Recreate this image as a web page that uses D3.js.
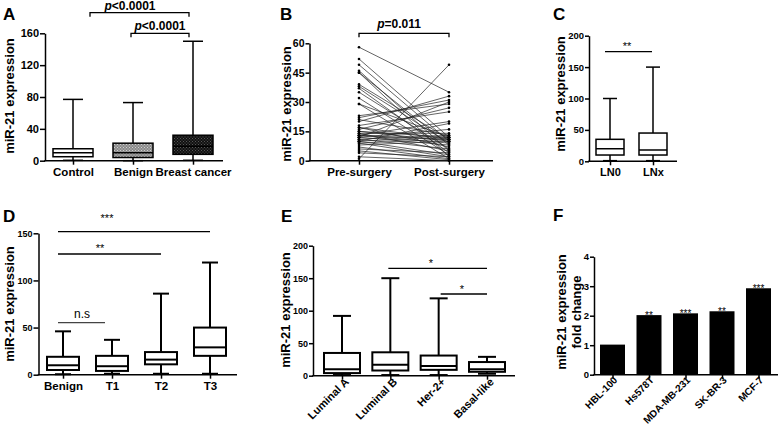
<!DOCTYPE html>
<html><head><meta charset="utf-8">
<script src="https://cdn.jsdelivr.net/npm/d3@7"></script>
<style>
html,body{margin:0;padding:0;background:#fff;}
svg{display:block;font-family:"Liberation Sans",Arial,sans-serif;}
</style></head>
<body><svg id="c" width="778" height="433"></svg>
<script>
// ---------- DATA ----------
// Panel A
const catsA = ["Control", "Benign", "Breast cancer"];
const minA = [0.5, 0, 0.5];
const q1A = [5, 4, 8];
const medA = [10, 10, 18];
const q3A = [15, 22, 32];
const maxA = [77, 73, 150];
const ticksA = [0, 40, 80, 120, 160];
// Panel B (paired values)
const catsB = ["Pre-surgery", "Post-surgery"];
const preB = [58, 52, 49, 46, 45, 45, 39, 38, 37, 35, 32, 29, 29, 23, 22, 21, 20, 18, 17, 17, 16, 15, 15, 14, 14, 13, 13, 13, 12, 12, 12, 11, 11, 10, 10, 10, 9, 9, 8, 7, 6, 5, 4, 2, 1];
const postB = [35, 12, 10, 5, 8, 2, 11, 9, 4, 6, 3, 12, 1, 29, 31, 13, 33, 25, 11, 7, 27, 12, 10, 14, 5, 20, 11, 9, 30, 16, 8, 13, 6, 12, 19, 3, 11, 2, 10, 1, 4, 0.5, 2, 0, 49];
const ticksB = [0, 15, 30, 45, 60];
// Panel C
const catsC = ["LN0", "LNx"];
const minC = [1, 1];
const q1C = [10, 10];
const medC = [20, 18];
const q3C = [35, 45];
const maxC = [100, 150];
const ticksC = [0, 50, 100, 150, 200];
// Panel D
const catsD = ["Benign", "T1", "T2", "T3"];
const minD = [0.5, 1, 1, 1];
const q1D = [5, 4, 11, 20];
const medD = [10, 9, 16, 29];
const q3D = [19, 20, 24, 50];
const maxD = [46, 37, 86, 119];
const ticksD = [0, 50, 100, 150];
// Panel E
const catsE = ["Luminal A", "Luminal B", "Her-2+", "Basal-like"];
const minE = [1, 1, 1, 3];
const q1E = [4, 8, 9, 6];
const medE = [10, 17, 15, 10];
const q3E = [35, 36, 31, 21];
const maxE = [92, 150, 119, 29];
const ticksE = [0, 50, 100, 150, 200];
// Panel F
const catsF = ["HBL-100", "Hs578T", "MDA-MB-231", "SK-BR-3", "MCF-7"];
const valsF = [1.02, 2.02, 2.08, 2.15, 2.93];
const starsF = ["", "**", "***", "**", "***"];
const ticksF = [0, 1, 2, 3, 4];

// ---------- DRAW ----------
const svg = d3.select("#c");
const defs = svg.append("defs");
function dotPattern(id, bg, dot) {
  const p = defs.append("pattern").attr("id", id).attr("patternUnits", "userSpaceOnUse")
    .attr("width", 3).attr("height", 3);
  p.append("rect").attr("width", 3).attr("height", 3).attr("fill", bg);
  p.append("rect").attr("x", 0).attr("y", 0).attr("width", 1).attr("height", 1).attr("fill", dot);
  p.append("rect").attr("x", 1.5).attr("y", 1.5).attr("width", 1).attr("height", 1).attr("fill", dot);
}
dotPattern("patGray", "#8a8a8a", "#d0d0d0");
dotPattern("patDark", "#111", "#555");

function frame(o) {
  const g = svg.append("g");
  const y = d3.scaleLinear().domain(o.yDomain).range(o.yRange);
  const x = d3.scalePoint().domain(o.cats).range(o.xRange);
  // y axis
  const ya = g.append("g").attr("transform", `translate(${o.ax0},0)`)
    .call(d3.axisLeft(y).tickValues(o.yTicks).tickFormat(d3.format("d"))
      .tickSize(o.tickLen || 5).tickSizeOuter(0).tickPadding(1));
  ya.select(".domain").attr("stroke", "#000").attr("stroke-width", 1.5);
  ya.selectAll(".tick line").attr("stroke", "#000").attr("stroke-width", 1.5);
  ya.selectAll(".tick text").attr("fill", "#000").style("font-size", o.tickFs + "px").style("font-weight", "bold");
  // x axis
  g.append("line").attr("x1", o.ax0 - 0.75).attr("x2", o.ax1).attr("y1", y(0)).attr("y2", y(0))
    .attr("stroke", "#000").attr("stroke-width", 1.5);
  const xa = g.append("g").attr("transform", `translate(0,${y(0)})`)
    .call(d3.axisBottom(x).tickSize(4).tickSizeOuter(0).tickPadding(3));
  xa.select(".domain").remove();
  xa.selectAll(".tick line").attr("stroke", "#000").attr("stroke-width", 1.5);
  xa.selectAll(".tick text").attr("fill", "#000").style("font-size", o.catFs + "px").style("font-weight", "bold");
  if (o.rotate) {
    xa.selectAll(".tick text").attr("text-anchor", "end").attr("dy", null).attr("y", 0)
      .attr("transform", `translate(${o.rotDx},${o.rotDy}) rotate(-45)`);
  }
  // y title
  o.title.forEach((t, i) => {
    g.append("text").attr("transform", `translate(${o.titleX + i * o.titleGap},${o.titleY}) rotate(-90)`)
      .attr("text-anchor", "middle").attr("dy", "0.35em")
      .style("font-size", "13px").style("font-weight", "bold").text(t);
  });
  // panel letter
  g.append("text").attr("x", o.lx).attr("y", o.ly).style("font-size", "17px").style("font-weight", "bold").text(o.letter);
  return { g, x, y };
}

function boxes(P, cats, mn, q1, md, q3, mx, w, fills, sw) {
  cats.forEach((c, i) => {
    const cx = P.x(c);
    const gg = P.g.append("g").attr("stroke", "#000").attr("stroke-width", sw).attr("fill", "none");
    gg.append("line").attr("x1", cx).attr("x2", cx).attr("y1", P.y(mx[i])).attr("y2", P.y(mn[i]));
    gg.append("line").attr("x1", cx - w / 4).attr("x2", cx + w / 4).attr("y1", P.y(mx[i])).attr("y2", P.y(mx[i]));
    gg.append("line").attr("x1", cx - w / 4).attr("x2", cx + w / 4).attr("y1", P.y(mn[i])).attr("y2", P.y(mn[i]));
    gg.append("rect").attr("x", cx - w / 2).attr("width", w).attr("y", P.y(q3[i]))
      .attr("height", P.y(q1[i]) - P.y(q3[i])).attr("fill", fills ? fills[i] : "#fff");
    gg.append("line").attr("x1", cx - w / 2).attr("x2", cx + w / 2).attr("y1", P.y(md[i])).attr("y2", P.y(md[i]));
  });
}

function hline(g, x1, x2, y, drop, color) {
  const p = drop ? `M${x1},${y + drop}V${y}H${x2}V${y + drop}` : `M${x1},${y}H${x2}`;
  g.append("path").attr("d", p).attr("fill", "none").attr("stroke", color || "#000").attr("stroke-width", 1.3);
}
function label(g, x, y, t, fs, bold, italicP) {
  const tx = g.append("text").attr("x", x).attr("y", y).attr("text-anchor", "middle").attr("fill", "#000")
    .style("font-size", fs + "px").style("font-weight", bold ? "bold" : "normal");
  if (italicP) {
    tx.append("tspan").style("font-style", "italic").text(t[0]);
    tx.append("tspan").text(t.slice(1));
  } else tx.text(t);
}

// Panel A
const A = frame({ yDomain: [0, 160], yRange: [160.7, 33.3], yTicks: ticksA, cats: catsA, xRange: [73, 193],
  ax0: 45, ax1: 223, tickFs: 11, catFs: 11.5, title: ["miR-21 expression"], titleX: 9, titleY: 96, titleGap: 0,
  letter: "A", lx: 3, ly: 20 });
boxes(A, catsA, minA, q1A, medA, q3A, maxA, 40, ["#fff", "url(#patGray)", "url(#patDark)"], 1.5);
hline(A.g, A.x(catsA[0]) + 17, A.x(catsA[2]) - 4, 12.7, 4);
label(A.g, 130, 9.8, "p<0.0001", 12, true, true);
hline(A.g, A.x(catsA[1]) - 2, A.x(catsA[2]) - 4, 33.3, 4);
label(A.g, 160, 29.5, "p<0.0001", 12, true, true);

// Panel B
const B = frame({ yDomain: [0, 60], yRange: [160.7, 43.3], yTicks: ticksB, cats: catsB, xRange: [359, 449],
  ax0: 309.5, ax1: 493, tickFs: 10.5, tickLen: 4, catFs: 11.5, title: ["miR-21 expression"], titleX: 286, titleY: 104, titleGap: 0,
  letter: "B", lx: 280, ly: 20 });
preB.forEach((v, i) => {
  B.g.append("line").attr("x1", B.x(catsB[0])).attr("x2", B.x(catsB[1])).attr("y1", B.y(v)).attr("y2", B.y(postB[i]))
    .attr("stroke", "#222").attr("stroke-width", 0.7);
});
preB.forEach((v, i) => {
  B.g.append("circle").attr("cx", B.x(catsB[0])).attr("cy", B.y(v)).attr("r", 1.3).attr("fill", "#000");
  B.g.append("circle").attr("cx", B.x(catsB[1])).attr("cy", B.y(postB[i])).attr("r", 1.3).attr("fill", "#000");
});
hline(B.g, B.x(catsB[0]), B.x(catsB[1]), 33.3, 4);
label(B.g, 399, 28, "p=0.011", 12, true, true);

// Panel C
const C = frame({ yDomain: [0, 200], yRange: [161.3, 35.7], yTicks: ticksC, cats: catsC, xRange: [610, 653],
  ax0: 589, ax1: 677, tickFs: 9.5, tickLen: 4, catFs: 11, title: ["miR-21 expression"], titleX: 560, titleY: 94, titleGap: 0,
  letter: "C", lx: 553, ly: 20 });
boxes(C, catsC, minC, q1C, medC, q3C, maxC, 28, null, 1.5);
hline(C.g, C.x(catsC[0]) - 5, C.x(catsC[1]) - 1, 51.7, 0);
label(C.g, 627, 50, "**", 11, false);

// Panel D
const D = frame({ yDomain: [0, 150], yRange: [374.7, 233.3], yTicks: ticksD, cats: catsD, xRange: [63, 210],
  ax0: 38.5, ax1: 237, tickFs: 9, catFs: 11.5, title: ["miR-21 expression"], titleX: 9, titleY: 304, titleGap: 0,
  letter: "D", lx: 3, ly: 222 });
boxes(D, catsD, minD, q1D, medD, q3D, maxD, 32, null, 2);
hline(D.g, D.x(catsD[0]) - 5, D.x(catsD[3]), 231.7, 0);
label(D.g, 107, 222, "***", 11, false);
hline(D.g, D.x(catsD[0]) - 5, D.x(catsD[2]), 254, 0);
label(D.g, 100, 252, "**", 11, false);
hline(D.g, D.x(catsD[0]) - 5, D.x(catsD[1]) - 7, 322.7, 0, "#444");
label(D.g, 82, 318, "n.s", 12, false);

// Panel E
const E = frame({ yDomain: [0, 200], yRange: [375.7, 245.7], yTicks: ticksE, cats: catsE, xRange: [342, 487],
  ax0: 313, ax1: 515, tickFs: 9, tickLen: 4, catFs: 11, title: ["miR-21 expression"], titleX: 285.5, titleY: 310, titleGap: 0,
  letter: "E", lx: 281, ly: 222, rotate: true, rotDx: 7, rotDy: 7 });
boxes(E, catsE, minE, q1E, medE, q3E, maxE, 36, null, 2);
hline(E.g, E.x(catsE[1]) - 2, E.x(catsE[3]), 268.3, 0);
label(E.g, 431, 267, "*", 11, false);
hline(E.g, E.x(catsE[2]) + 2, E.x(catsE[3]), 294, 0);
label(E.g, 462, 293, "*", 11, false);

// Panel F
const F = frame({ yDomain: [0, 4], yRange: [374.7, 256.7], yTicks: ticksF, cats: catsF, xRange: [612.5, 758.5],
  ax0: 594, ax1: 778, tickFs: 9.5, tickLen: 4, catFs: 10, title: ["miR-21 expression", "fold change"], titleX: 561.5, titleY: 312, titleGap: 15,
  letter: "F", lx: 553, ly: 221, rotate: true, rotDx: 5, rotDy: 6 });
catsF.forEach((c, i) => {
  F.g.append("rect").attr("x", F.x(c) - 12.5).attr("width", 25).attr("y", F.y(valsF[i]))
    .attr("height", F.y(0) - F.y(valsF[i])).attr("fill", "#000");
  if (starsF[i]) label(F.g, F.x(c), F.y(valsF[i]) + 4, starsF[i], 10, false);
});
</script></body></html>
